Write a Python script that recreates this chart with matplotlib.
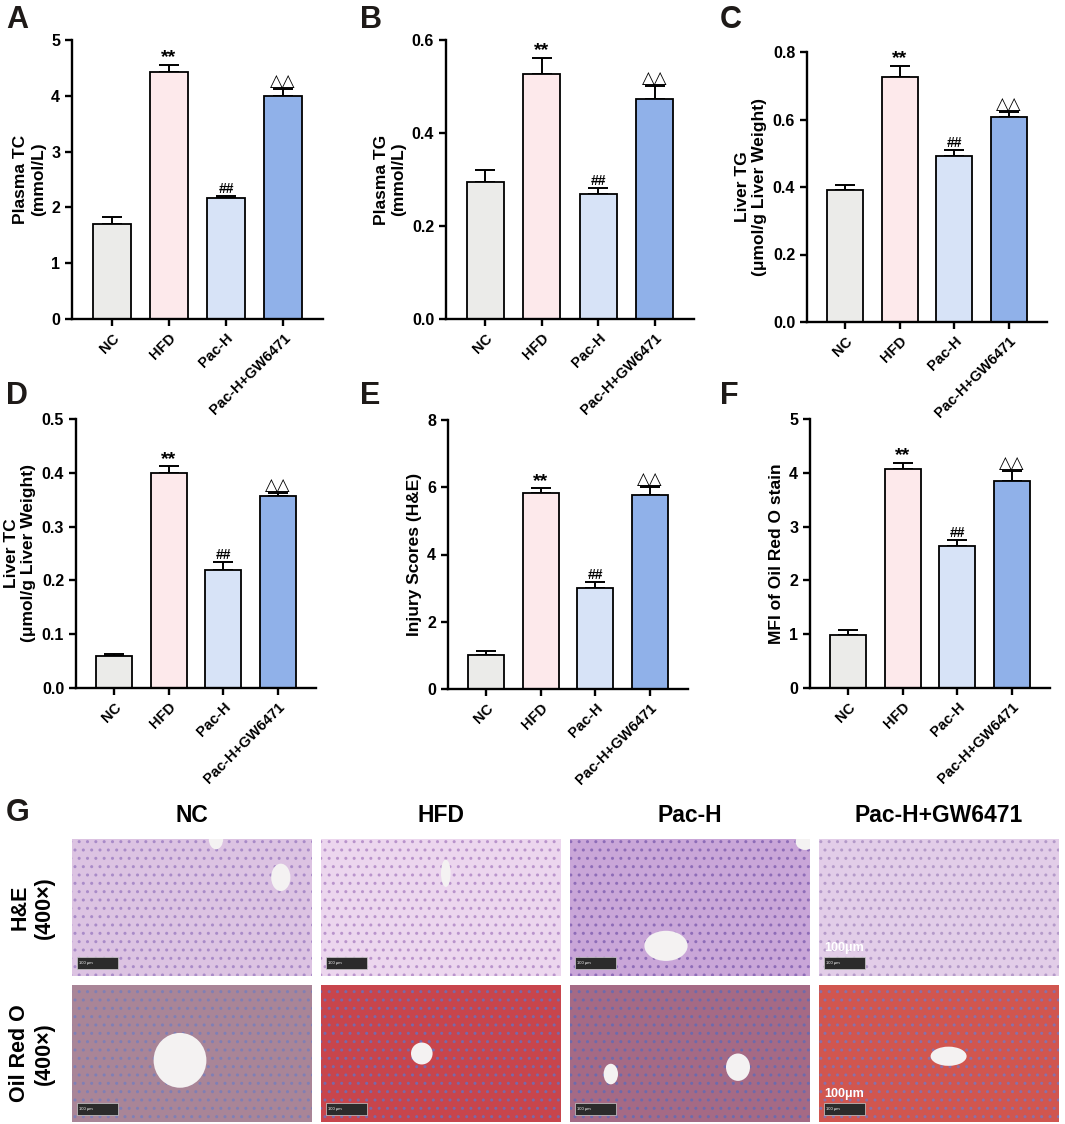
import matplotlib
matplotlib.use("Agg")
import matplotlib.pyplot as plt
from matplotlib.patches import Ellipse, Rectangle

plt.rcParams['font.family'] = ['Liberation Sans', 'DejaVu Sans']
plt.rcParams['font.weight'] = 'bold'
plt.rcParams['axes.labelweight'] = 'bold'

# groups and colours
groups = ["NC", "HFD", "Pac-H", "Pac-H+GW6471"]
bar_colors = ["#ebebe9", "#fde9eb", "#d7e3f7", "#90b1e9"]
sig_marks = ["", "**", "##", "△△"]

# values (mean, upper error)
plasma_tc = [1.70, 4.42, 2.16, 3.99]
plasma_tc_err = [0.12, 0.13, 0.05, 0.13]
plasma_tg = [0.295, 0.526, 0.268, 0.473]
plasma_tg_err = [0.026, 0.035, 0.013, 0.028]
liver_tg = [0.390, 0.725, 0.493, 0.608]
liver_tg_err = [0.016, 0.033, 0.017, 0.014]
liver_tc = [0.060, 0.399, 0.220, 0.357]
liver_tc_err = [0.004, 0.013, 0.015, 0.006]
injury = [1.02, 5.82, 3.00, 5.77]
injury_err = [0.12, 0.15, 0.19, 0.23]
mfi = [0.98, 4.07, 2.64, 3.84]
mfi_err = [0.10, 0.11, 0.12, 0.20]

W, H = 1065, 1124
fig = plt.figure(figsize=(W / 100, H / 100), dpi=100)


def px_axes(x0, x1, y0, y1):
    # pixel box -> figure fraction
    return fig.add_axes([x0 / W, 1 - y1 / H, (x1 - x0) / W, (y1 - y0) / H])


def bar_panel(ax, vals, errs, yticks, ylabel):
    x = list(range(len(groups)))
    ax.bar(x, vals, width=0.66, color=bar_colors, edgecolor="black", linewidth=1.3, zorder=2)
    ax.errorbar(x, vals, yerr=[[0] * len(vals), errs], fmt="none", ecolor="black",
                elinewidth=1.4, capsize=7, capthick=1.4, zorder=1)
    for xi, v, e, m in zip(x, vals, errs, sig_marks):
        if not m:
            continue
        fs = {"**": 14, "##": 10, "△△": 12}[m]
        ax.annotate(m, (xi, v + e), xytext=(0, -1 if m == "**" else 0), textcoords="offset points",
                    ha="center", va="bottom", fontsize=fs, fontweight="bold")
    ax.set_xlim(-0.7, 3.7)
    ax.set_ylim(yticks[0], yticks[-1])
    ax.set_yticks(yticks)
    ax.set_xticks(x)
    ax.set_xticklabels(groups, rotation=45, ha="right", rotation_mode="anchor", fontsize=10.5)
    ax.set_ylabel(ylabel, fontsize=12.5, labelpad=4)
    for s in ["top", "right"]:
        ax.spines[s].set_visible(False)
    for s in ["left", "bottom"]:
        ax.spines[s].set_linewidth(1.7)
    ax.tick_params(width=1.7, length=5)
    ax.tick_params(axis="y", labelsize=11.5)


axA = px_axes(72, 323, 40, 319)
bar_panel(axA, plasma_tc, plasma_tc_err, [0, 1, 2, 3, 4, 5], "Plasma TC\n(mmol/L)")
axB = px_axes(446, 694, 40, 319)
bar_panel(axB, plasma_tg, plasma_tg_err, [0.0, 0.2, 0.4, 0.6], "Plasma TG\n(mmol/L)")
axB.set_yticklabels(["0.0", "0.2", "0.4", "0.6"])
axC = px_axes(807, 1047, 52, 322)
bar_panel(axC, liver_tg, liver_tg_err, [0.0, 0.2, 0.4, 0.6, 0.8], "Liver TG\n(μmol/g Liver Weight)")
axC.set_yticklabels(["0.0", "0.2", "0.4", "0.6", "0.8"])
axD = px_axes(76, 316, 419, 688)
bar_panel(axD, liver_tc, liver_tc_err, [0.0, 0.1, 0.2, 0.3, 0.4, 0.5], "Liver TC\n(μmol/g Liver Weight)")
axD.set_yticklabels(["0.0", "0.1", "0.2", "0.3", "0.4", "0.5"])
axE = px_axes(448, 688, 420, 689)
bar_panel(axE, injury, injury_err, [0, 2, 4, 6, 8], "Injury Scores (H&E)")
axF = px_axes(810, 1050, 419, 688)
bar_panel(axF, mfi, mfi_err, [0, 1, 2, 3, 4, 5], "MFI of Oil Red O stain")

# panel letters
for lab, (lx, ly) in zip("ABCDEFG", [(6, 5), (360, 5), (720, 5), (6, 381), (360, 381), (720, 381), (6, 798)]):
    fig.text(lx / W, 1 - ly / H, lab, fontsize=22, fontweight="bold", va="top", ha="left", color="#1e1a18")

# ---- panel G: histology placeholders ----
col_x = [(72, 312), (321, 561), (570, 810), (819, 1059)]
row_y = [(839, 976), (985, 1122)]
he_colors = ["#dcc3e2", "#ecd6ee", "#c9a6d8", "#e2cde8"]
he_dots = ["#a98bc8", "#b994cc", "#8e6cb8", "#b49ac9"]
oil_colors = ["#a98597", "#c8454c", "#a56a85", "#d1564f"]
oil_dots = ["#7f7fb5", "#7a68a8", "#6d6aad", "#8a70a8"]
# (x, y, w, h) of white lumens in axes fraction
he_lumens = [[(0.87, 0.72, 0.08, 0.2), (0.6, 1.0, 0.06, 0.15)],
             [(0.52, 0.75, 0.04, 0.2)],
             [(0.4, 0.22, 0.18, 0.22), (0.98, 0.98, 0.08, 0.12)],
             []]
oil_lumens = [[(0.45, 0.45, 0.22, 0.4)],
              [(0.42, 0.5, 0.09, 0.16)],
              [(0.17, 0.35, 0.06, 0.15), (0.7, 0.4, 0.1, 0.2)],
              [(0.54, 0.48, 0.15, 0.14)]]

for ci, (x0, x1) in enumerate(col_x):
    for ri, (y0, y1) in enumerate(row_y):
        ax = px_axes(x0, x1, y0, y1)
        ax.set_xlim(0, 1)
        ax.set_ylim(0, 1)
        ax.set_xticks([])
        ax.set_yticks([])
        for s in ax.spines.values():
            s.set_visible(False)
        base = he_colors[ci] if ri == 0 else oil_colors[ci]
        dots = he_dots[ci] if ri == 0 else oil_dots[ci]
        ax.add_patch(Rectangle((0, 0), 1, 1, facecolor=base, edgecolor=dots, hatch="..",
                               linewidth=0, transform=ax.transAxes))
        lumens = he_lumens[ci] if ri == 0 else oil_lumens[ci]
        for (ex, ey, ew, eh) in lumens:
            ax.add_patch(Ellipse((ex, ey), ew, eh, facecolor="#f4f2f2", edgecolor="none"))
        ax.add_patch(Rectangle((0.02, 0.05), 0.17, 0.09, facecolor="#2b2b2b", edgecolor="#cccccc",
                               linewidth=0.5))
        ax.text(0.03, 0.095, "100 μm", fontsize=3, color="white", va="center", fontweight="normal")
        if ci == 3:
            ax.text(0.02, 0.16, "100μm", fontsize=9, color="white", va="bottom")

for (x0, x1), g in zip(col_x, groups):
    fig.text((x0 + x1) / 2 / W, 1 - 816 / H, g, fontsize=16.5, fontweight="bold", ha="center", va="center")

for (y0, y1), lab in zip(row_y, ["H&E\n(400×)", "Oil Red O\n(400×)"]):
    fig.text(32 / W, 1 - (y0 + y1) / 2 / H, lab, fontsize=15.5, fontweight="bold", rotation=90,
             ha="center", va="center", multialignment="center", linespacing=1.2)

fig.savefig("out.png", dpi=100)
